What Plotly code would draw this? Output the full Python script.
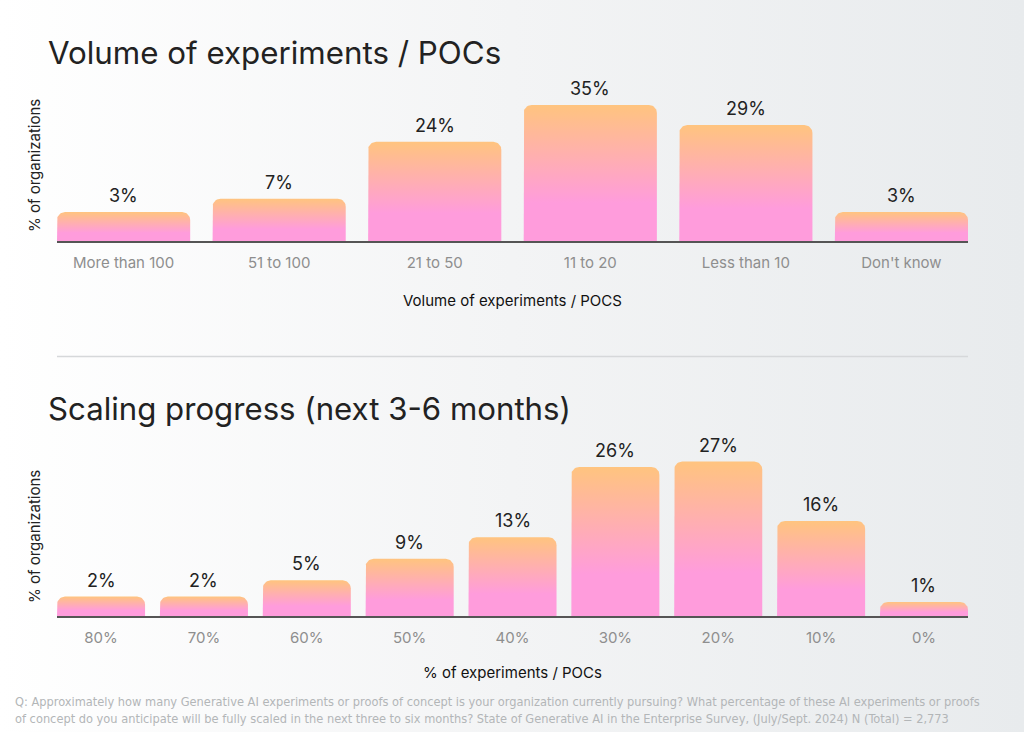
import math
import plotly.graph_objects as go

# ---------------- data ----------------
volume_categories = ["More than 100", "51 to 100", "21 to 50", "11 to 20", "Less than 10", "Don't know"]
volume_values = [3, 7, 24, 35, 29, 3]

scaling_categories = ["80%", "70%", "60%", "50%", "40%", "30%", "20%", "10%", "0%"]
scaling_values = [2, 2, 5, 9, 13, 26, 27, 16, 1]

title_top = "Volume of experiments / POCs"
title_bottom = "Scaling progress (next 3-6 months)"
xtitle_top = "Volume of experiments / POCS"
xtitle_bottom = "% of experiments / POCs"
ytitle = "% of organizations"
footer = ("Q: Approximately how many Generative AI experiments or proofs of concept is your organization currently pursuing? "
          "What percentage of these AI experiments or proofs<br>of concept do you anticipate will be fully scaled in the next "
          "three to six months? State of Generative AI in the Enterprise Survey, (July/Sept. 2024) N (Total) = 2,773")

# ---------------- layout helpers ----------------
W, H = 1024, 732
X0, X1 = 57, 968            # plot area left/right in px
HALF = 0.428                # half bar width (category units)
RADIUS_PX = 8

FONT = "Inter, Roboto, 'Open Sans', sans-serif"
ORANGE = "#FFC47F"
PINK = "#FF9CDC"


def py(px):
    return 1 - px / H


fig = go.Figure()

# background gradient subplot (x / y)
fig.add_trace(go.Scatter(
    x=[0, 1, 1, 0, 0], y=[0, 0, 1, 1, 0], mode="lines", fill="toself",
    line=dict(width=0), fillgradient=dict(type="horizontal",
                                          colorscale=[[0, "#ffffff"], [0.5, "#f3f4f5"], [1, "#e8ebed"]]),
    xaxis="x", yaxis="y", hoverinfo="skip"))


def add_chart(cats, vals, xa, ya, dom_bottom_px, dom_top_px, px_per_pct, min_offset):
    n = len(cats)
    xr = [-HALF, n - 1 + HALF]
    px_per_cat = (X1 - X0) / (xr[1] - xr[0])
    yr_min = -min_offset
    yr_max = yr_min + (dom_bottom_px - dom_top_px) / px_per_pct
    rx = RADIUS_PX / px_per_cat
    ry = RADIUS_PX / px_per_pct
    for i, v in enumerate(vals):
        x0, x1 = i - HALF, i + HALF
        base, top = yr_min, v
        xs, ys = [x0], [base]
        for k in range(0, 11):
            a = math.pi - (math.pi / 2) * k / 10
            xs.append(x0 + rx + rx * math.cos(a))
            ys.append(top - ry + ry * math.sin(a))
        for k in range(0, 11):
            a = math.pi / 2 - (math.pi / 2) * k / 10
            xs.append(x1 - rx + rx * math.cos(a))
            ys.append(top - ry + ry * math.sin(a))
        xs += [x1, x0]
        ys += [base, base]
        fig.add_trace(go.Scatter(
            x=xs, y=ys, mode="lines", fill="toself", line=dict(width=0),
            fillgradient=dict(type="vertical",
                              colorscale=[[0, PINK], [0.28, PINK], [1, ORANGE]]),
            xaxis=xa, yaxis=ya, hoverinfo="skip"))
        fig.add_annotation(x=i, y=v, xref=xa, yref=ya, text=f"{v}%", showarrow=False,
                           yanchor="bottom", yshift=4,
                           font=dict(size=18, color="#222222", family=FONT))
    axis_key = "xaxis" + xa[1:]
    yaxis_key = "yaxis" + ya[1:]
    fig.update_layout(**{
        axis_key: dict(domain=[X0 / W, X1 / W], range=xr, anchor=ya,
                       tickvals=list(range(n)), ticktext=cats,
                       tickfont=dict(size=15, color="#8e8e8e", family=FONT),
                       ticks="outside", ticklen=7, tickcolor="rgba(0,0,0,0)",
                       showline=True, linecolor="#555555", linewidth=1.5,
                       showgrid=False, zeroline=False, fixedrange=True),
        yaxis_key: dict(domain=[py(dom_bottom_px), py(dom_top_px)], range=[yr_min, yr_max],
                        anchor=xa, visible=False, showgrid=False, zeroline=False, fixedrange=True),
    })


add_chart(volume_categories, volume_values, "x2", "y2", 241, 85, 3.344, 5.67)
add_chart(scaling_categories, scaling_values, "x3", "y3", 616, 440, 5.4, 1.6)

fig.update_layout(
    xaxis=dict(domain=[0, 1], range=[0, 1], visible=False, fixedrange=True),
    yaxis=dict(domain=[0, 1], range=[0, 1], visible=False, fixedrange=True),
)

ann = [
    dict(text=title_top, x=46 / W, y=py(53), xanchor="left", yanchor="middle",
         font=dict(size=31.3, color="#222222", family=FONT)),
    dict(text=title_bottom, x=46 / W, y=py(409), xanchor="left", yanchor="middle",
         font=dict(size=31.2, color="#222222", family=FONT)),
    dict(text=xtitle_top, x=(X0 + X1) / 2 / W, y=py(300), xanchor="center", yanchor="middle",
         font=dict(size=15, color="#111111", family=FONT)),
    dict(text=xtitle_bottom, x=(X0 + X1) / 2 / W, y=py(672), xanchor="center", yanchor="middle",
         font=dict(size=15, color="#111111", family=FONT)),
    dict(text=ytitle, x=34 / W, y=py(166), xanchor="center", yanchor="middle", textangle=-90,
         font=dict(size=15, color="#222222", family=FONT)),
    dict(text=ytitle, x=34 / W, y=py(537), xanchor="center", yanchor="middle", textangle=-90,
         font=dict(size=15, color="#222222", family=FONT)),
    dict(text=footer, x=13 / W, y=py(692), xanchor="left", yanchor="top", align="left",
         font=dict(size=12.7, color="#b3b6b8",
                   family="'Liberation Sans Narrow', 'DejaVu Sans Condensed', 'Arial Narrow', sans-serif")),
]
for a in ann:
    fig.add_annotation(xref="paper", yref="paper", showarrow=False, **a)

fig.add_shape(type="line", xref="paper", yref="paper", x0=X0 / W, x1=X1 / W, y0=py(356.5), y1=py(356.5),
              line=dict(color="#d6d8da", width=1.5))

fig.update_layout(
    width=W, height=H, margin=dict(l=0, r=0, t=0, b=0),
    paper_bgcolor="#f4f5f6", plot_bgcolor="rgba(0,0,0,0)",
    showlegend=False, hovermode=False,
)

fig.write_html("out.html", config={"displayModeBar": False})
